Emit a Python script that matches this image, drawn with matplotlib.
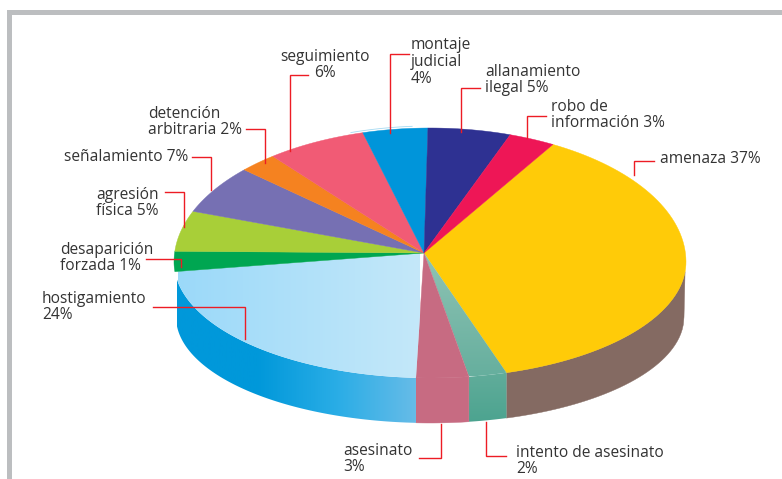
import numpy as np
import matplotlib
matplotlib.use("Agg")
import matplotlib.pyplot as plt
from matplotlib.patches import Polygon, Rectangle

# -----------------------------
# 1. Data
# -----------------------------
categories = ['amenaza', 'intento de asesinato', 'asesinato', 'hostigamiento',
              'desaparición forzada', 'agresión física', 'señalamiento',
              'detención arbitraria', 'seguimiento', 'montaje judicial',
              'allanamiento ilegal', 'robo de información']
# share of the circle as it is drawn in the picture (not always the printed %)
shares = [37.2, 2.4, 3.3, 22.8, 2.6, 4.9, 5.9, 2.4, 6.3, 4.1, 5.2, 2.9]
labels = ['amenaza 37%', 'intento de asesinato\n2%', 'asesinato\n3%',
          'hostigamiento\n24%', 'desaparición\nforzada 1%', 'agresión\nfísica 5%',
          'señalamiento 7%', 'detención\narbitraria 2%', 'seguimiento\n6%',
          'montaje\njudicial\n4%', 'allanamiento\nilegal 5%', 'robo de\ninformación 3%']
top_colors = ['#FFCB08', '#7DB9A8', '#C76B82', '#B0E0FA', '#00A651', '#A8CF38',
              '#7670B3', '#F58220', '#F15B75', '#0095DA', '#2E3192', '#EE1656']
side_colors = ['#846A62', '#52A693', '#C76B82', '#0098DA', None, None,
               None, None, None, None, None, None]

label_x = [660, 516, 343, 42, 60, 96, 64, 148, 325, 411, 485, 551]
label_y = [159, 461, 459, 307, 258, 203, 157, 122, 65, 62, 80, 115]
label_ha = ['left'] * 8 + ['center'] + ['left'] * 3

# leader lines: (x of text end, y of elbow, x of elbow, y of the pie end)
leaders = [(654, 161, 634, 175), (506, 456, 486, 422), (419, 458, 441, 424),
           (153, 307, 245, 339), (146, 259, 181, 267), (165, 192, 184, 227),
           (192, 157, 211, 190), (246, 129, 265, 163), (308, 75, 290, 151),
           (409, 54, 390, 133), (480, 88, 461, 132), (546, 116, 527, 138)]

START_ANGLE = 61.3
HUB = (424, 253)
CX, CY, RX, RY_UP, RY_DOWN = 430, 262, 256, 134, 116
BX, BY, BRX, BRY = 430, 317, 254, 106
FRAME = '#BCBEC0'
RED = '#ED1C24'


def rim(t_deg):
    t = np.radians(t_deg)
    s = np.sin(t)
    return CX + RX * np.cos(t), CY - np.where(s > 0, RY_UP, RY_DOWN) * s


def bottom_at(x):
    x = np.clip(x, BX - BRX, BX + BRX)
    return x, BY + BRY * np.sqrt(1 - ((x - BX) / BRX) ** 2)


def gradient(ax, patch, colors, extent, horizontal=True):
    cmap = matplotlib.colors.LinearSegmentedColormap.from_list('g', colors)
    g = np.linspace(0, 1, 256)
    g = g.reshape(1, -1) if horizontal else g.reshape(-1, 1)
    im = ax.imshow(g, cmap=cmap, extent=extent, aspect='auto', zorder=patch.get_zorder())
    ax.add_patch(patch)
    patch.set_facecolor('none')
    patch.set_edgecolor('none')
    im.set_clip_path(patch)


# -----------------------------
# 2. Figure
# -----------------------------
plt.rcParams['font.family'] = ['Open Sans', 'DejaVu Sans']
fig = plt.figure(figsize=(7.82, 4.79), dpi=100)
ax = fig.add_axes([0, 0, 1, 1])

# frame
ax.add_patch(Rectangle((7, 10), 775, 5, color=FRAME, lw=0, zorder=1))
ax.add_patch(Rectangle((7, 10), 5, 469, color=FRAME, lw=0, zorder=1))

# -----------------------------
# 3. Slices
# -----------------------------
edges = START_ANGLE - np.cumsum([0] + shares) * 3.6
for i, name in enumerate(categories):
    t = np.linspace(edges[i], edges[i + 1], 80)
    x, y = rim(t)

    # side wall, only for the slices facing the viewer
    if side_colors[i] is not None:
        ts = t[t <= -4] if i == 0 else t
        xs, ys = rim(ts)
        bx, by = bottom_at(xs)
        wall = np.vstack([np.column_stack([xs, ys]), np.column_stack([bx, by])[::-1]])
        if name == 'hostigamiento':
            gradient(ax, Polygon(wall, closed=True, zorder=2),
                     ['#0098DA', '#0098DA', '#2AADE6', '#68BCE8'], (177, 418, 479, 0))
        elif name == 'intento de asesinato':
            gradient(ax, Polygon(wall, closed=True, zorder=2),
                     ['#64AE9C', '#4BA38F'], (460, 515, 425, 365), horizontal=False)
        else:
            ax.add_patch(Polygon(wall, closed=True, fc=side_colors[i], ec=side_colors[i], lw=0.3, zorder=2))

    pts = np.vstack([[HUB], np.column_stack([x, y])])
    if name == 'hostigamiento':
        gradient(ax, Polygon(pts, closed=True, zorder=3),
                 ['#9BD9F9', '#C4E8FA'], (178, 420, 479, 0))
    elif name == 'intento de asesinato':
        gradient(ax, Polygon(pts, closed=True, zorder=3),
                 ['#8FC3B4', '#66AF9E'], (424, 510, 376, 253), horizontal=False)
    else:
        ax.add_patch(Polygon(pts, closed=True, fc=top_colors[i], ec=top_colors[i], lw=0.3, zorder=3))

# thin light arc above the montaje slice
tx, ty = rim(np.linspace(108, 94, 30))
ax.plot(tx, ty - 2, color='#A5DAF2', lw=0.6, zorder=3)

# -----------------------------
# 4. Leaders and labels
# -----------------------------
for x0, y0, x1, y1 in leaders:
    ax.plot([x0, x1, x1], [y0, y0, y1], color=RED, lw=1.0, solid_joinstyle='miter', zorder=4)

for text, x, y, ha in zip(labels, label_x, label_y, label_ha):
    ax.text(x, y, text, fontsize=11.2, color='#333333', ha=ha, va='center',
            linespacing=1.06, multialignment=ha, zorder=5)

ax.set_xlim(0, 782)
ax.set_ylim(479, 0)
ax.axis('off')
fig.savefig('out.png', dpi=100, facecolor='white')
